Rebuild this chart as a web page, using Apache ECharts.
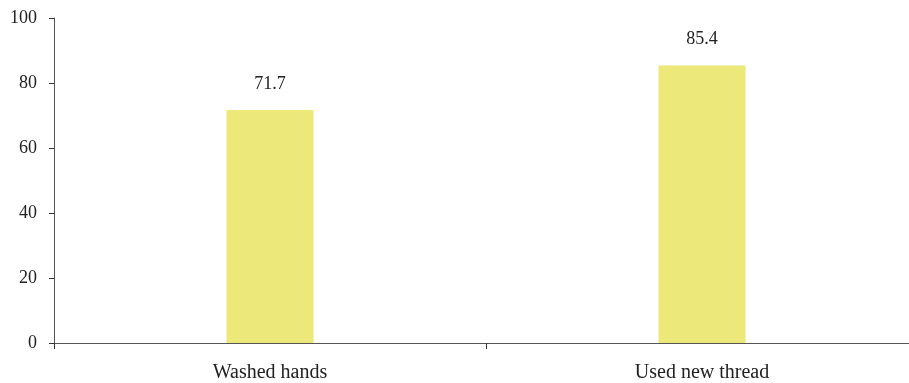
<!DOCTYPE html>
<html>
<head>
<meta charset="utf-8">
<script src="https://cdn.jsdelivr.net/npm/echarts@6/dist/echarts.min.js"></script>
<style>
  html, body { margin: 0; padding: 0; background: #fff; overflow: hidden; }
  #chart { width: 918px; height: 383px; }
</style>
</head>
<body>
<div id="chart"></div>
<script>
// Share of respondents per practice
const categories = ['Washed hands', 'Used new thread'];
const values = [71.7, 85.4];
const yTicks = [0, 20, 40, 60, 80, 100];

const fontFamily = '"Liberation Serif", "DejaVu Serif", serif';
const chart = echarts.init(document.getElementById('chart'), null, { renderer: 'canvas' });

chart.setOption({
  animation: false,
  backgroundColor: '#ffffff',
  grid: { left: 54, right: 0, top: 18, bottom: 40, containLabel: false },
  xAxis: {
    type: 'category',
    data: categories,
    boundaryGap: true,
    axisLine: { lineStyle: { color: '#555', width: 1 } },
    axisTick: { show: true, length: 6, lineStyle: { color: '#333' }, alignWithLabel: false },
    axisLabel: { color: '#222', fontFamily: fontFamily, fontSize: 20, margin: 20 },
    splitLine: { show: false }
  },
  yAxis: {
    type: 'value',
    min: yTicks[0],
    max: yTicks[yTicks.length - 1],
    interval: 20,
    axisLine: { show: true, lineStyle: { color: '#555', width: 1 } },
    axisTick: { show: true, length: 5, lineStyle: { color: '#333' } },
    axisLabel: { color: '#222', fontFamily: fontFamily, fontSize: 18, margin: 17 },
    splitLine: { show: false }
  },
  series: [{
    type: 'bar',
    data: values,
    barWidth: 87,
    itemStyle: { color: '#ECE87A' },
    label: {
      show: true,
      position: 'top',
      distance: 17,
      color: '#222',
      fontFamily: fontFamily,
      fontSize: 18,
      formatter: p => p.value.toFixed(1)
    }
  }]
});
</script>
</body>
</html>
